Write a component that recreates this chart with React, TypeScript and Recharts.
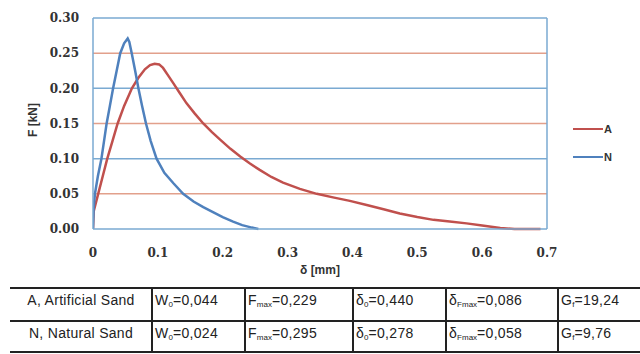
import { LineChart, Line, XAxis, YAxis, ReferenceLine } from 'recharts';

// δ [mm], F [kN]
const seriesA = [
  [0, 0], [0.001, 0.025], [0.008, 0.05], [0.015, 0.075], [0.022, 0.1], [0.03, 0.125],
  [0.038, 0.15], [0.048, 0.175], [0.06, 0.2], [0.07, 0.215], [0.08, 0.227], [0.088, 0.233],
  [0.095, 0.235], [0.102, 0.234], [0.108, 0.229], [0.116, 0.218], [0.124, 0.207],
  [0.134, 0.193], [0.144, 0.179], [0.157, 0.164], [0.17, 0.15], [0.183, 0.138],
  [0.196, 0.127], [0.212, 0.114], [0.227, 0.103], [0.242, 0.093], [0.257, 0.084],
  [0.275, 0.074], [0.293, 0.066], [0.319, 0.057], [0.345, 0.05], [0.37, 0.045],
  [0.396, 0.04], [0.422, 0.034], [0.448, 0.028], [0.473, 0.022], [0.5, 0.017],
  [0.525, 0.013], [0.55, 0.0105], [0.576, 0.008], [0.6, 0.005], [0.628, 0.0015],
  [0.65, 0], [0.69, 0],
];

const seriesN = [
  [0, 0], [0.001, 0.03], [0.003, 0.05], [0.0075, 0.075], [0.013, 0.1], [0.017, 0.125],
  [0.021, 0.15], [0.026, 0.175], [0.031, 0.2], [0.0365, 0.225], [0.042, 0.25], [0.048, 0.264],
  [0.0535, 0.271], [0.056, 0.266], [0.0597, 0.25], [0.065, 0.225], [0.07, 0.2],
  [0.0757, 0.175], [0.0817, 0.15], [0.089, 0.125], [0.098, 0.1], [0.11, 0.08],
  [0.124, 0.065], [0.139, 0.05], [0.155, 0.039], [0.17, 0.031], [0.185, 0.024],
  [0.2, 0.017], [0.216, 0.0105], [0.23, 0.0055], [0.245, 0.002], [0.255, 0],
];

const xTicks = [0, 0.1, 0.2, 0.3, 0.4, 0.5, 0.6, 0.7];
const yTicks = [0, 0.05, 0.1, 0.15, 0.2, 0.25, 0.3];
const gridLines = [0.05, 0.1, 0.15, 0.2, 0.25];

// table rows: label, W0, Fmax, δ0, δFmax, Gf
const tableLabels = ['A, Artificial Sand', 'N, Natural Sand'];
const tableW0 = ['0,044', '0,024'];
const tableFmax = ['0,229', '0,295'];
const tableD0 = ['0,440', '0,278'];
const tableDFmax = ['0,086', '0,058'];
const tableGf = ['19,24', '9,76'];

const RED = '#c0504d';
const BLUE = '#4f81bd';
const GRID_BLUE = '#7aaad2';
const GRID_RED = '#e2a08b';

const toPoints = (arr: number[][]) => arr.map(([d, f]) => ({ d, f }));

const tickStyle = { fontFamily: '"DejaVu Serif", serif', fontWeight: 700, fontSize: 12, fill: '#333' };
const sans = '"Liberation Sans", Arial, sans-serif';

function LegendBox() {
  const items = [
    { name: 'A', color: RED },
    { name: 'N', color: BLUE },
  ];
  return (
    <div style={{ position: 'absolute', left: 573, top: 122, fontFamily: sans, fontSize: 11, fontWeight: 700, color: '#333' }}>
      {items.map((it, i) => (
        <div key={it.name} style={{ display: 'flex', alignItems: 'center', height: 14, marginBottom: i === 0 ? 14 : 0 }}>
          <span style={{ display: 'inline-block', width: 30, height: 2.5, background: it.color }} />
          <span style={{ marginLeft: 1 }}>{it.name}</span>
        </div>
      ))}
    </div>
  );
}

const colX = [10, 152, 245, 353, 446, 558];
const rowY = [288, 321, 352];

export default function App() {
  const sub = (s: string) => (
    <span style={{ fontSize: 8, verticalAlign: -2, letterSpacing: 0 }}>{s}</span>
  );
  const cells = tableLabels.map((label, i) => [
    <span>{label}</span>,
    <span>W{sub('0')}={tableW0[i]}</span>,
    <span>F{sub('max')}={tableFmax[i]}</span>,
    <span>δ{sub('0')}={tableD0[i]}</span>,
    <span>δ{sub('Fmax')}={tableDFmax[i]}</span>,
    <span>G{sub('f')}={tableGf[i]}</span>,
  ]);

  return (
    <div style={{ position: 'absolute', left: 0, top: 0, width: 640, height: 354, background: '#fff' }}>
      <LineChart width={640} height={280} margin={{ top: 18, right: 93, left: 0, bottom: 21 }}>
        <XAxis
          type="number"
          dataKey="d"
          domain={[0, 0.7]}
          ticks={xTicks}
          tickFormatter={(v: number) => (v === 0 ? '0' : v.toFixed(1))}
          tick={tickStyle}
          tickLine={false}
          tickSize={0}
          tickMargin={19}
          axisLine={{ stroke: GRID_BLUE, strokeWidth: 1.5 }}
          height={30}
          allowDataOverflow
        />
        <YAxis
          type="number"
          dataKey="f"
          domain={[0, 0.3]}
          ticks={yTicks}
          tickFormatter={(v: number) => v.toFixed(2)}
          tick={tickStyle}
          tickLine={false}
          tickSize={0}
          tickMargin={14}
          axisLine={{ stroke: GRID_BLUE, strokeWidth: 1.5 }}
          width={93}
        />
        {gridLines.map((y, i) => (
          <ReferenceLine key={y} y={y} stroke={i % 2 === 0 ? GRID_RED : GRID_BLUE} strokeWidth={1.5} />
        ))}
        <ReferenceLine y={0.3} stroke={GRID_BLUE} strokeWidth={1.5} />
        <ReferenceLine x={0.7} stroke={GRID_BLUE} strokeWidth={1.5} />
        <Line
          data={toPoints(seriesA)}
          dataKey="f"
          name="A"
          type="linear"
          stroke={RED}
          strokeWidth={2.5}
          dot={false}
          isAnimationActive={false}
        />
        <Line
          data={toPoints(seriesN)}
          dataKey="f"
          name="N"
          type="linear"
          stroke={BLUE}
          strokeWidth={2.5}
          dot={false}
          isAnimationActive={false}
        />
      </LineChart>

      <LegendBox />

      <div
        style={{
          position: 'absolute',
          left: 33 - 30,
          top: 120 - 8,
          width: 60,
          textAlign: 'center',
          transform: 'rotate(-90deg)',
          fontFamily: sans,
          fontWeight: 700,
          fontSize: 12,
          color: '#333',
          lineHeight: '16px',
        }}
      >
        F [kN]
      </div>
      <div
        style={{
          position: 'absolute',
          left: 270,
          top: 262,
          width: 100,
          textAlign: 'center',
          fontFamily: sans,
          fontWeight: 700,
          fontSize: 12,
          color: '#333',
          lineHeight: '16px',
        }}
      >
        δ [mm]
      </div>

      {/* parameter table */}
      {rowY.map((y) => (
        <div key={y} style={{ position: 'absolute', left: colX[0], top: y - 1, width: 640 - colX[0], height: 1.5, background: '#222' }} />
      ))}
      {colX.slice(1).map((x) => (
        <div key={x} style={{ position: 'absolute', left: x - 1, top: rowY[0], width: 1.5, height: rowY[2] - rowY[0], background: '#222' }} />
      ))}
      {cells.map((row, r) =>
        row.map((c, k) => (
          <div
            key={`${r}-${k}`}
            style={{
              position: 'absolute',
              left: k === 0 ? colX[0] : colX[k] + 3,
              width: k === 0 ? colX[1] - colX[0] : undefined,
              textAlign: k === 0 ? 'center' : 'left',
              top: rowY[r] + 1,
              height: 22,
              lineHeight: '22px',
              fontFamily: sans,
              fontSize: 14,
              letterSpacing: 0.3,
              color: '#222',
              whiteSpace: 'nowrap',
            }}
          >
            {c}
          </div>
        )),
      )}
    </div>
  );
}
